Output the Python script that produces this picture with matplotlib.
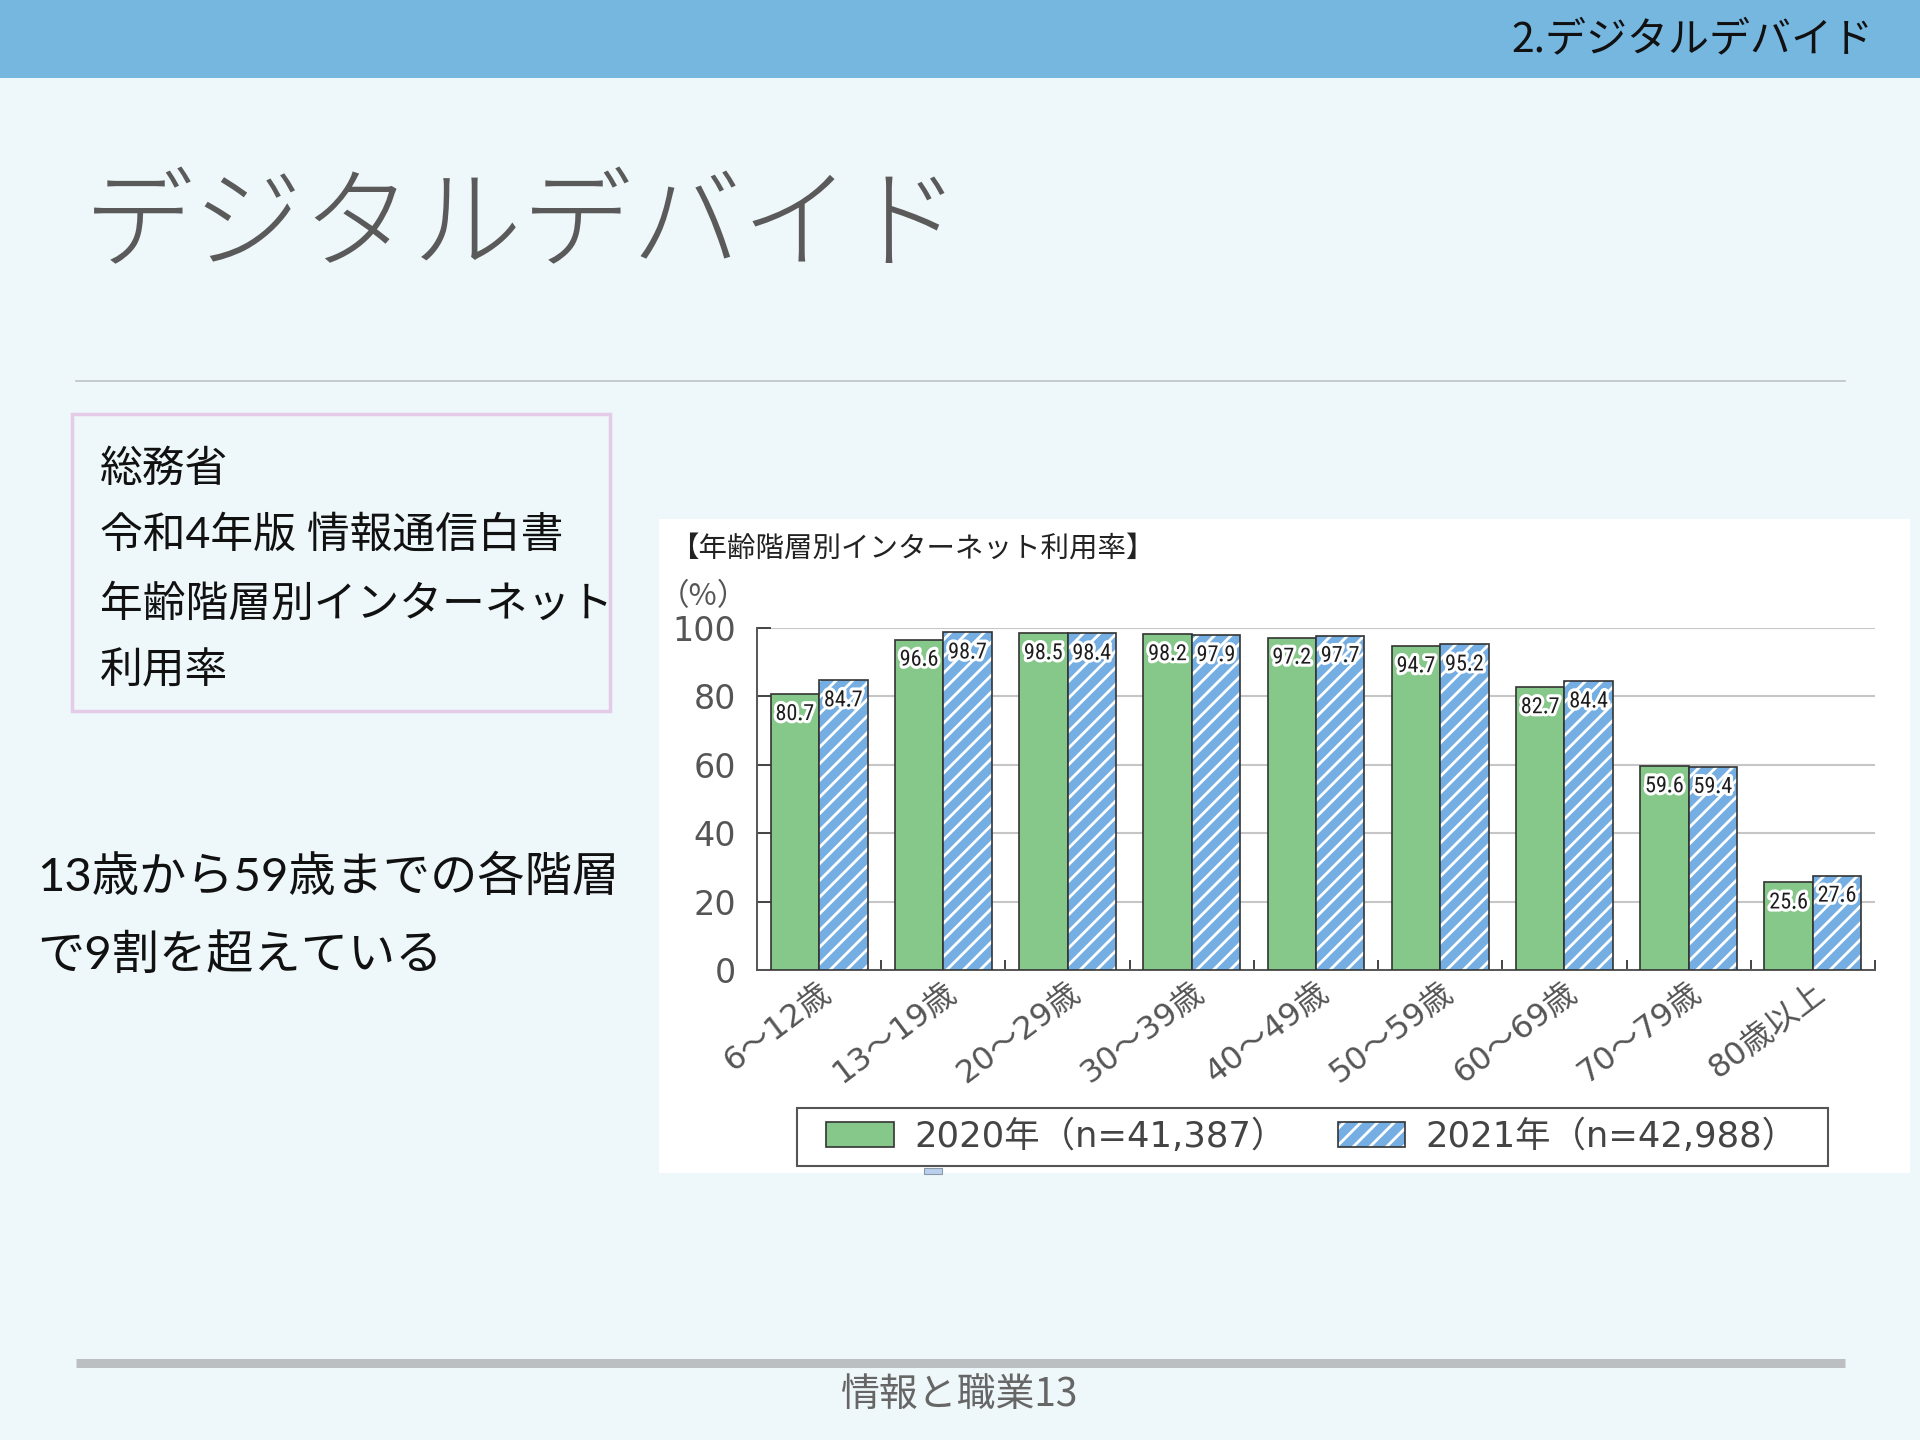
import matplotlib
matplotlib.use('Agg')
import matplotlib.pyplot as plt
import numpy as np
from matplotlib.patches import Rectangle, Patch
from matplotlib.legend_handler import HandlerTuple
from matplotlib import patheffects as pe
from matplotlib import font_manager as fm

# ---------------- data ----------------
categories = ['6〜12歳', '13〜19歳', '20〜29歳', '30〜39歳', '40〜49歳',
              '50〜59歳', '60〜69歳', '70〜79歳', '80歳以上']
values_2020 = [80.7, 96.6, 98.5, 98.2, 97.2, 94.7, 82.7, 59.6, 25.6]
values_2021 = [84.7, 98.7, 98.4, 97.9, 97.7, 95.2, 84.4, 59.4, 27.6]
series_labels = ['2020年（n=41,387）', '2021年（n=42,988）']
yticks = [0, 20, 40, 60, 80, 100]

plt.rcParams['font.family'] = ['Noto Sans CJK JP', 'DejaVu Sans']
plt.rcParams['hatch.linewidth'] = 2.0

names = {f.name for f in fm.fontManager.ttflist}


def pick_value_font():
    for nm in ('Roboto Condensed', 'Liberation Sans Narrow'):
        if nm in names:
            return fm.FontProperties(family=nm, size=16)
    if 'Roboto' in names:
        return fm.FontProperties(family='Roboto', size=15.5)
    return fm.FontProperties(family='DejaVu Sans', size=14)


val_prop = pick_value_font()
num_family = ['DejaVu Sans', 'Noto Sans CJK JP']
body_family = ['Lato', 'Noto Sans CJK JP'] if 'Lato' in names else ['Noto Sans CJK JP']

W, H = 1920, 1440
fig = plt.figure(figsize=(19.2, 14.4), dpi=100, facecolor='#EEF7F9')

# ---------------- slide background ----------------
bg = fig.add_axes([0, 0, 1, 1])
bg.set_xlim(0, W)
bg.set_ylim(H, 0)
bg.axis('off')
bg.add_patch(Rectangle((0, 0), W, 78, color='#76B7E0', lw=0))
bg.text(1873, 40, '2.デジタルデバイド', ha='right', va='center', fontsize=29.5, color='#111111')
bg.text(84, 228, 'デジタルデバイド', ha='left', va='center', fontsize=79,
        color='#5A5A5A', fontweight='light')
bg.plot([76, 1845], [381, 381], color='#BFC3C6', lw=1.2)
bg.add_patch(Rectangle((72, 414), 538, 297, fill=False, edgecolor='#E4CCE9', lw=2.5))
for yy, line in zip([469, 535, 604, 671],
                    ['総務省', '令和4年版 情報通信白書', '年齢階層別インターネット', '利用率']):
    bg.text(100, yy, line, ha='left', va='center', fontsize=30.8, color='#111111',
            family=body_family)
bg.text(37, 877, '13歳から59歳までの各階層', ha='left', va='center', fontsize=34,
        color='#111111', family=body_family)
bg.text(37, 955, 'で9割を超えている', ha='left', va='center', fontsize=34,
        color='#111111', family=body_family)
bg.plot([76, 1845], [1363, 1363], color='#BBBFC2', lw=6.5, solid_capstyle='butt')
bg.text(960, 1395, '情報と職業13', ha='center', va='center', fontsize=28, color='#666666')

# chart image panel
bg.add_patch(Rectangle((659, 519), 1251, 654, color='white', lw=0))
bg.add_patch(Rectangle((924, 1168), 18, 6, facecolor='#B9D0EC', edgecolor='#8899AA', lw=0.8))
bg.text(670, 549, '【年齢階層別インターネット利用率】', ha='left', va='center',
        fontsize=20.5, color='#222222')
bg.text(703, 597, '（%）', ha='center', va='center', fontsize=22, color='#555555')
# legend frame
bg.add_patch(Rectangle((797, 1108), 1031, 58, facecolor='white', edgecolor='#555555', lw=1.5))

# ---------------- chart ----------------
green = '#86C78A'
blue = '#74AEE2'
edge = '#333333'
ax = fig.add_axes([757 / W, 1 - 970 / H, (1875 - 757) / W, (970 - 628) / H])
ax.set_facecolor('none')
x = np.arange(len(categories))
w = 0.39
ax.bar(x - w / 2, values_2020, w, color=green, edgecolor=edge, lw=1.2, zorder=3)
ax.bar(x + w / 2, values_2021, w, color=blue, edgecolor='white', hatch='//', lw=0, zorder=3)
ax.bar(x + w / 2, values_2021, w, fill=False, edgecolor=edge, lw=1.2, zorder=4)

stroke = [pe.withStroke(linewidth=4.5, foreground='white')]
for xi, v in zip(x - w / 2, values_2020):
    ax.text(xi, v - 6, f'{v:.1f}', ha='center', va='center', fontproperties=val_prop,
            color='#1E1E1E', path_effects=stroke, zorder=6)
for xi, v in zip(x + w / 2, values_2021):
    ax.text(xi, v - 6, f'{v:.1f}', ha='center', va='center', fontproperties=val_prop,
            color='#1E1E1E', path_effects=stroke, zorder=6)

ax.set_xlim(-0.5, len(categories) - 0.5)
ax.set_ylim(0, 100)
ax.set_yticks(yticks)
ax.set_yticklabels([str(t) for t in yticks], family=num_family, fontsize=24, color='#555555')
ax.yaxis.grid(True, color='#C6C6C6', lw=1.5, zorder=0)
ax.set_axisbelow(True)
ax.tick_params(axis='y', direction='in', length=10, width=1.4, color='#444444', pad=15)
ax.set_xticks(x)
ax.set_xticklabels(categories, rotation=37, ha='right', va='top', rotation_mode='anchor',
                   family=num_family, fontsize=23, color='#555555')
ax.tick_params(axis='x', which='major', length=0, pad=5)
ax.set_xticks(np.arange(len(categories)) + 0.5, minor=True)
ax.tick_params(axis='x', which='minor', direction='in', length=7, width=1.4, color='#444444')
for s in ['top', 'right']:
    ax.spines[s].set_visible(False)
for s in ['left', 'bottom']:
    ax.spines[s].set_color('#555555')
    ax.spines[s].set_linewidth(1.4)

# legend
h1 = Patch(facecolor=green, edgecolor=edge, lw=1.2)
h2a = Patch(facecolor=blue, edgecolor='white', hatch='//', lw=0)
h2b = Patch(fill=False, edgecolor=edge, lw=1.2)
leg = fig.legend(handles=[h1, (h2a, h2b)], labels=series_labels, loc='center',
                 bbox_to_anchor=(1312 / W, 1 - 1137 / H), ncol=2, frameon=False,
                 prop=fm.FontProperties(family=num_family, size=25.5), labelcolor='#444444',
                 handlelength=1.9, handleheight=0.7, handletextpad=0.58, columnspacing=1.45,
                 borderpad=0.2, handler_map={tuple: HandlerTuple(ndivide=1)})

fig.savefig('out.png', dpi=100, facecolor=fig.get_facecolor())
